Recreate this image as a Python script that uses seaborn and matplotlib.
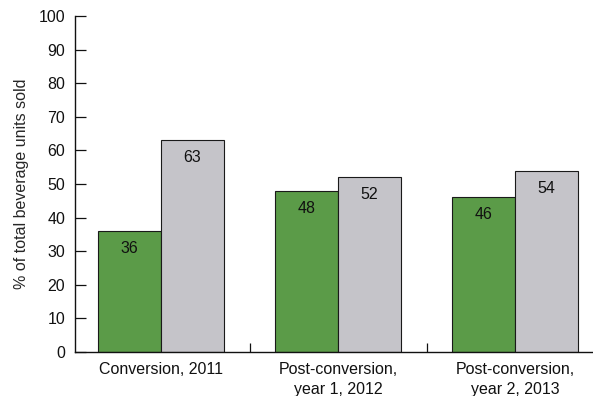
import matplotlib
matplotlib.use("Agg")
import matplotlib.pyplot as plt
import seaborn as sns
import pandas as pd

periods = ["Conversion, 2011", "Post-conversion,\nyear 1, 2012", "Post-conversion,\nyear 2, 2013"]
beverage_types = ["Healthier beverages", "Less healthy beverages"]
healthier = [36, 48, 46]
less_healthy = [63, 52, 54]
y_ticks = [0, 10, 20, 30, 40, 50, 60, 70, 80, 90, 100]
y_label = "% of total beverage units sold"

green = "#5b9b48"
grey = "#c5c4c9"
fs = 11.5

df = pd.DataFrame({
    "period": periods * 2,
    "type": [beverage_types[0]] * 3 + [beverage_types[1]] * 3,
    "pct": healthier + less_healthy,
})

sns.set_style("white")
plt.rcParams["font.family"] = ["Liberation Sans", "DejaVu Sans"]

fig = plt.figure(figsize=(5.93, 3.96), dpi=100)
ax = fig.add_axes([75 / 593, 44 / 396, 518 / 593, 336 / 396])

sns.barplot(data=df, x="period", y="pct", hue="type", order=periods,
            hue_order=beverage_types, palette=[green, grey],
            edgecolor="#1a1a1a", linewidth=0.8, width=0.71,
            legend=False, ax=ax, saturation=1)

for cont, vals in zip(ax.containers, [healthier, less_healthy]):
    for bar, v in zip(cont, vals):
        ax.annotate(f"{v}", xy=(bar.get_x() + bar.get_width() / 2, bar.get_height()),
                    xytext=(0, -12.6), textcoords="offset points",
                    ha="center", va="center", fontsize=fs, color="#111111")

ax.set_ylim(0, 100)
ax.set_xlim(-0.486, 2.44)
ax.set_yticks(y_ticks)
ax.set_xlabel("")
ax.set_ylabel(y_label, fontsize=fs, labelpad=7)

ax.tick_params(axis="y", direction="in", length=8, width=0.9, pad=7,
               labelsize=fs, left=True, colors="#111111")
ax.tick_params(axis="x", which="major", length=0, pad=7, labelsize=fs,
               colors="#111111")
ax.set_xticks([0.5, 1.5], minor=True)
ax.tick_params(axis="x", which="minor", direction="in", length=6.5, width=0.9,
               bottom=True, color="#111111")
for lbl in ax.get_xticklabels():
    lbl.set_linespacing(1.4)

sns.despine(ax=ax, top=True, right=True)
for s in ["left", "bottom"]:
    ax.spines[s].set_color("#111111")
    ax.spines[s].set_linewidth(1.0)

fig.savefig("out.png", dpi=100)
